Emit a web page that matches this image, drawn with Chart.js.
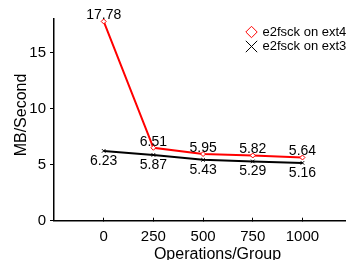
<!DOCTYPE html>
<html>
<head>
<meta charset="utf-8">
<script src="https://cdn.jsdelivr.net/npm/chart.js@4.4.0/dist/chart.umd.min.js"></script>
<style>
  html, body { margin: 0; padding: 0; background: #fff; }
  #wrap { width: 350px; height: 260px; }
</style>
</head>
<body>
<div id="wrap"><canvas id="chart"></canvas></div>
<script>
const opsPerGroup = [0, 250, 500, 750, 1000];
const ext4Speed = [17.78, 6.51, 5.95, 5.82, 5.64];
const ext3Speed = [6.23, 5.87, 5.43, 5.29, 5.16];
const yTicks = [0, 5, 10, 15];
const seriesNames = ['e2fsck on ext4', 'e2fsck on ext3'];
const xTitle = 'Operations/Group';
const yTitle = 'MB/Second';

const font = "'Liberation Sans', Arial, Helvetica, sans-serif";

const toPoints = vals => opsPerGroup.map((x, i) => ({x: x, y: vals[i]}));

// numbers next to each point: ext4 above, ext3 below
const valueLabels = {
  id: 'valueLabels',
  afterDatasetsDraw(chart) {
    const ctx = chart.ctx;
    ctx.save();
    ctx.font = '14px ' + font;
    ctx.fillStyle = '#000';
    ctx.textAlign = 'center';
    ctx.textBaseline = 'middle';
    chart.data.datasets.forEach((ds, d) => {
      const meta = chart.getDatasetMeta(d);
      meta.data.forEach((pt, i) => {
        const off = d === 0 ? -6 : 10;
        ctx.fillText(ds.data[i].y.toFixed(2), pt.x, pt.y + off);
      });
    });
    ctx.restore();
  }
};

// axis titles sit a bit off centre in the original, so draw them by hand
const axisTitles = {
  id: 'axisTitles',
  afterDraw(chart) {
    const ctx = chart.ctx;
    ctx.save();
    ctx.font = '16px ' + font;
    ctx.fillStyle = '#000';
    ctx.textAlign = 'center';
    ctx.textBaseline = 'alphabetic';
    ctx.fillText(xTitle, 217.5, 258.5);
    ctx.translate(25.5, 115);
    ctx.rotate(-Math.PI / 2);
    ctx.fillText(yTitle, 0, 0);
    ctx.restore();
  }
};

// small legend in the top right corner, inside the plot
const cornerLegend = {
  id: 'cornerLegend',
  afterDraw(chart) {
    const ctx = chart.ctx;
    ctx.save();
    ctx.font = '13px ' + font;
    ctx.textAlign = 'left';
    ctx.textBaseline = 'middle';
    chart.data.datasets.forEach((ds, d) => {
      const cx = 251.5, cy = 32 + d * 14.5, r = 5.7;
      ctx.strokeStyle = ds.borderColor;
      ctx.lineWidth = 1;
      ctx.beginPath();
      if (ds.pointStyle === 'rectRot') {
        ctx.moveTo(cx, cy - r);
        ctx.lineTo(cx + r, cy);
        ctx.lineTo(cx, cy + r);
        ctx.lineTo(cx - r, cy);
        ctx.closePath();
      } else {
        ctx.moveTo(cx - r, cy - r);
        ctx.lineTo(cx + r, cy + r);
        ctx.moveTo(cx + r, cy - r);
        ctx.lineTo(cx - r, cy + r);
      }
      ctx.stroke();
      ctx.fillStyle = '#000';
      ctx.fillText(ds.label, 262.5, cy);
    });
    ctx.restore();
  }
};

new Chart(document.getElementById('chart').getContext('2d'), {
  type: 'line',
  data: {
    datasets: [
      {
        label: seriesNames[0],
        data: toPoints(ext4Speed),
        borderColor: '#ff0000',
        borderWidth: 2,
        pointStyle: 'rectRot',
        pointRadius: 2.5,
        pointBorderColor: '#ff0000',
        pointBackgroundColor: '#ffffff',
        pointBorderWidth: 1,
        tension: 0
      },
      {
        label: seriesNames[1],
        data: toPoints(ext3Speed),
        borderColor: '#000000',
        borderWidth: 2,
        pointStyle: 'crossRot',
        pointRadius: 2.5,
        pointBorderColor: '#000000',
        pointBorderWidth: 1,
        tension: 0
      }
    ]
  },
  options: {
    responsive: true,
    maintainAspectRatio: false,
    animation: false,
    layout: { padding: { top: 19, right: 0, left: 0, bottom: 0 } },
    plugins: {
      legend: { display: false },
      tooltip: { enabled: false }
    },
    scales: {
      x: {
        type: 'linear',
        min: -250,
        max: 1214,
        afterBuildTicks: s => { s.ticks = opsPerGroup.map(v => ({value: v})); },
        afterFit: s => { s.height = 39.3; },
        grid: { drawOnChartArea: false, drawTicks: true, tickLength: -3, color: '#000', lineWidth: 1 },
        border: { color: '#000', width: 1.5 },
        ticks: {
          color: '#000', font: { family: font, size: 15 }, padding: 10,
          maxRotation: 0, autoSkip: false, callback: v => String(v)
        }
      },
      y: {
        min: 0,
        max: 18,
        afterBuildTicks: s => { s.ticks = yTicks.map(v => ({value: v})); },
        afterFit: s => { s.width = 54; },
        grid: { drawOnChartArea: false, drawTicks: true, tickLength: 4, color: '#000', lineWidth: 1 },
        border: { color: '#000', width: 1.5 },
        ticks: { color: '#000', font: { family: font, size: 15 }, padding: 4 }
      }
    }
  },
  plugins: [valueLabels, axisTitles, cornerLegend]
});
</script>
</body>
</html>
